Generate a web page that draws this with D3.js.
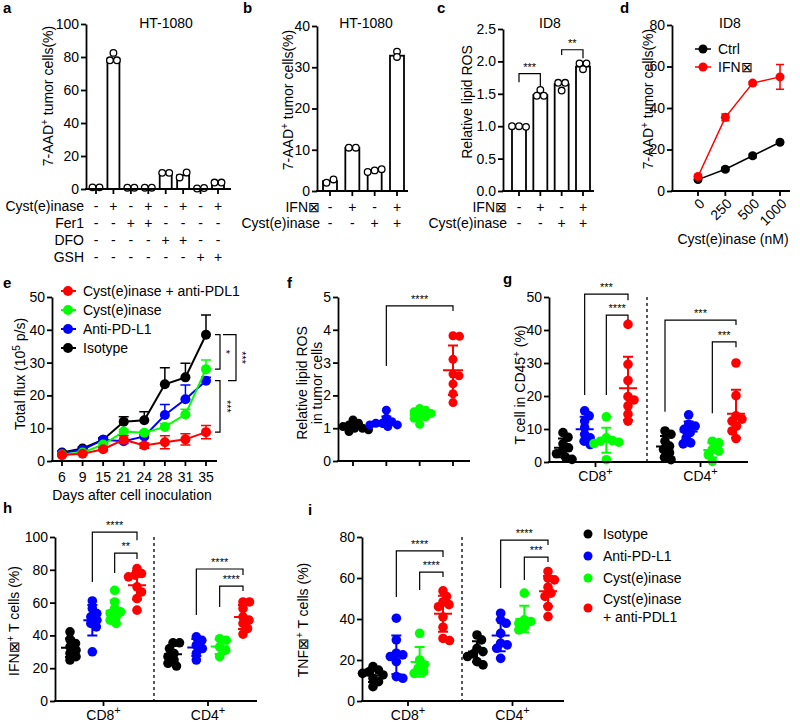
<!DOCTYPE html>
<html><head><meta charset="utf-8">
<script src="https://cdn.jsdelivr.net/npm/d3@7"></script>
<style>body{margin:0;background:#fff}</style>
</head><body><svg id="c" width="800" height="722"></svg>
<script>
// ---------------- DATA ----------------
// Panel a
const aRowLabels = ["Cyst(e)inase","Fer1","DFO","GSH"];
const aSigns = [["-","+","-","+","-","+","-","+"],["-","-","+","+","-","-","-","-"],["-","-","-","-","+","+","-","-"],["-","-","-","-","-","-","+","+"]];
const aMeans = [1, 79, 0.8, 0.8, 9.6, 8.3, 0.5, 3.6];
const aPoints = [[1,1],[82.5,78,78],[0.8,0.8],[0.8,0.8],[9.8,9.8],[7,10],[0.3,0.6],[3.9,3.9]];
const aTicks = [0,20,40,60,80,100];
// Panel b
const bRowLabels = ["IFN\u22A0","Cyst(e)inase"];
const bSigns = [["-","+","-","+"],["-","-","+","+"]];
const bMeans = [2.4, 10.5, 5.0, 32.8];
const bPoints = [[2.0,2.8],[10.5,10.5],[4.6,5.0,5.3],[33.8,32.5]];
const bTicks = [0,10,20,30,40];
// Panel c
const cRowLabels = ["IFN\u22A0","Cyst(e)inase"];
const cSigns = [["-","+","-","+"],["-","-","+","+"]];
const cMeans = [1.0, 1.48, 1.65, 1.92];
const cPoints = [[1.0,1.0,0.99],[1.56,1.47,1.47],[1.67,1.67,1.55],[1.97,1.97,1.88]];
const cTicks = [0,0.5,1.0,1.5,2.0,2.5];
const cBrackets = [{from:0,to:1,top:1.81,l:1.68,r:1.62,label:"***"},{from:2,to:3,top:2.18,l:2.1,r:2.05,label:"**"}];
// Panel d
const dDose = ["0","250","500","1000"];
const dCtrl = [5.5,10.5,17,23.5];
const dCtrlErr = [0.6,1,1,0.8];
const dIfn = [7,35.5,52,55];
const dIfnErr = [0.8,1.6,0.8,6];
const dTicks = [0,20,40,60,80];
// Panel e
const eDays = ["6","9","15","21","24","28","31","35"];
const eNames = ["Cyst(e)inase + anti-PDL1","Cyst(e)inase","Anti-PD-L1","Isotype"];
const eCombo = [1.8,2.2,3.6,6.5,4.7,5.7,6.6,8.8];
const eComboErr = [0.3,0.3,0.5,1.2,0.8,2,1.7,2];
const eCyst = [2.0,2.6,5.0,9.0,8.6,10.4,14.2,28];
const eCystErr = [0.3,0.3,0.5,0.6,0.5,1,1.6,2.8];
const eAnti = [2.4,3.4,6.5,6.0,7.5,14,18.8,24.5];
const eAntiErr = [0.3,0.3,0.5,0.5,0.6,3.2,4.4,1];
const eIso = [2.6,3.8,6.5,12,12.4,23.4,25.5,38.5];
const eIsoErr = [0.3,0.4,0.5,1.5,2.6,5,4.3,6];
const eTicks = [0,10,20,30,40,50];
// Panel f
const fBlack = [0.9,0.95,1.0,1.0,1.05,1.1,1.15,1.25];
const fBlue = [1.05,1.1,1.1,1.15,1.15,1.2,1.3,1.55];
const fGreen = [1.12,1.3,1.35,1.4,1.45,1.5,1.55,1.6];
const fRed = [3.8,3.82,3.1,2.65,2.6,2.35,2.05,1.78];
const fTicks = [0,1,2,3,4,5];
// Panel g (T cell in CD45+)
const gCD8 = [[8.9,7.5,5.5,4.3,3.3,2.5,1.5,0.8],[15.5,14,12.4,10.4,8.4,7.3,6.3,5.3],[13.7,7.3,6.5,6.3,6.0,5.6,0.7],[41.7,29.6,24.7,19.8,18.8,17,14.5,12.4]];
const gCD4 = [[9.4,8.4,6.3,4.8,3.8,2.8,1.4,0.7],[14.3,11.4,10.9,9.9,8.9,7.3,5.8,5.5],[6.3,5.8,3.8,3.3,2.2,0.2],[30,20.1,14,13,12.4,10.9,9.4,7.1]];
const gTicks = [0,10,20,30,40,50];
// Panel h (IFN+ T cells)
const hCD8 = [[42.2,37.5,35.1,33,31,29,27,25],[61,56.4,53.3,51.3,49.3,47.3,45.2,30],[67.5,60.4,56.4,54.4,53.3,51.3,49.3,47.3],[80.7,77.7,76.7,75.7,69.6,66.5,62.5,55.4]];
const hCD4 = [[35.5,35.5,32,29,27,25,23,21.3],[39.1,37,34,32,29,25],[38,37,33,31,27],[60.4,60.4,56.4,51.3,49.3,47.3,44.2,40.8]];
const hTicks = [0,20,40,60,80,100];
// Panel i (TNF+ T cells)
const iCD8 = [[16.8,15.1,14.3,13.5,12.7,11.1,9.4,7],[40.4,29.8,23.3,22.5,21.7,19.2,11.9,11.1],[33,20,17.6,16,14.3,13.5],[53.7,51,48.3,47,46,41,36,30.5,29.5]];
const iCD4 = [[32.2,29.8,25.7,24.1,23,21.7,19.2,17.6],[42.8,39.6,37.9,33,28.2,27.4,25.7,20.8],[52.6,39.6,38.8,37.9,36.3,34.7],[63.2,59.9,59.1,55.5,52.6,51,46.1,41.2]];
const iTicks = [0,20,40,60,80];
const groupNames = ["Isotype","Anti-PD-L1","Cyst(e)inase","Cyst(e)inase\n+ anti-PDL1"];
const cellTypes = ["CD8","CD4"];

// ---------------- DRAWING ----------------
const FONT = '"Liberation Sans", Arial, Helvetica, sans-serif';
const COLORS = ["#000000","#0000ff","#00ff00","#ff0000"];
const svg = d3.select('#c').attr('font-family', FONT);
const SW = 1.8;

function txt(x, y, s, o = {}) {
  return svg.append('text').attr('x', x).attr('y', y).text(s)
    .attr('font-size', o.size || 14).attr('text-anchor', o.anchor || 'start')
    .attr('font-weight', o.weight || null).attr('fill', o.fill || '#000');
}
function panelLabel(s, x, y) { txt(x, y, s, {size: 15, weight: 'bold'}); }

function yLabel(cx, cy, lines) {
  const g = svg.append('g').attr('transform', `translate(${cx},${cy}) rotate(-90)`);
  lines.forEach((parts, li) => {
    const t = g.append('text').attr('text-anchor', 'middle').attr('font-size', 14)
      .attr('y', 5 + (li - (lines.length - 1) / 2) * 15);
    let pendingDown = false;
    parts.forEach(p => {
      if (typeof p === 'object') {
        t.append('tspan').attr('dy', -5).attr('font-size', 10).text(p.sup);
        pendingDown = true;
      } else {
        const ts = t.append('tspan').text(p);
        if (pendingDown) { ts.attr('dy', 5); pendingDown = false; }
      }
    });
  });
}

function yAxis(y, x0, ticks, fmt) {
  const ax = svg.append('g').attr('transform', `translate(${x0},0)`)
    .call(d3.axisLeft(y).tickValues(ticks).tickFormat(fmt || d3.format('d')).tickSize(5).tickPadding(2).tickSizeOuter(0));
  ax.attr('font-family', FONT).attr('font-size', 14);
  ax.selectAll('path,line').attr('stroke', '#000').attr('stroke-width', SW);
  ax.selectAll('text').attr('fill', '#000');
  return ax;
}
function xAxisLine(x0, x1, y0, tickXs) {
  svg.append('line').attr('x1', x0 - SW / 2).attr('x2', x1).attr('y1', y0).attr('y2', y0)
    .attr('stroke', '#000').attr('stroke-width', SW);
  tickXs.forEach(x => svg.append('line').attr('x1', x).attr('x2', x).attr('y1', y0).attr('y2', y0 + 5)
    .attr('stroke', '#000').attr('stroke-width', SW));
}

// symmetric rows (few points, bar charts)
function swarm(vals, y, cx, r, gap) {
  const pts = vals.map((v, i) => ({v, i, py: y(v)}));
  const sorted = pts.slice().sort((a, b) => a.py - b.py);
  const rows = [];
  sorted.forEach(p => {
    const row = rows[rows.length - 1];
    if (row && p.py - row[0].py < r * 1.5) row.push(p); else rows.push([p]);
  });
  rows.forEach(row => {
    row.sort((a, b) => a.i - b.i);
    const n = row.length;
    row.forEach((p, k) => p.px = cx + (k - (n - 1) / 2) * gap);
  });
  return pts;
}
// compact beeswarm (dot plots)
function beeswarm(vals, y, cx, minD) {
  const pts = vals.map((v, i) => ({v, i, py: y(v)}));
  const placed = [];
  pts.slice().sort((a, b) => a.py - b.py).forEach(p => {
    for (let k = 0; k < 200; k++) {
      const off = (k % 2 === 1 ? 1 : -1) * Math.ceil(k / 2) * 0.5;
      const px = cx + off;
      if (placed.every(q => (q.px - px) ** 2 + (q.py - p.py) ** 2 >= minD * minD)) { p.px = px; break; }
    }
    if (p.px === undefined) p.px = cx;
    placed.push(p);
  });
  return pts;
}

function bracket(x1, x2, yTop, yl, yr, label, size = 11) {
  svg.append('path').attr('d', `M${x1},${yl}V${yTop}H${x2}V${yr}`)
    .attr('fill', 'none').attr('stroke', '#000').attr('stroke-width', 1.2);
  txt((x1 + x2) / 2, yTop - 3, label, {size, anchor: 'middle'});
}

function barPanel(cfg) {
  const y = d3.scaleLinear().domain([0, cfg.max]).range([cfg.y0, cfg.y1]);
  const x = d3.scalePoint().domain(d3.range(cfg.means.length)).range([cfg.xa, cfg.xb]);
  cfg.means.forEach((m, i) => {
    svg.append('rect').attr('x', x(i) - cfg.bw / 2).attr('y', y(m)).attr('width', cfg.bw)
      .attr('height', y(0) - y(m)).attr('fill', '#fff').attr('stroke', '#000').attr('stroke-width', SW);
  });
  cfg.points.forEach((pts, i) => {
    swarm(pts, y, x(i), 3.3, 7).forEach(p => {
      svg.append('circle').attr('cx', p.px).attr('cy', p.py).attr('r', 3.3)
        .attr('fill', '#fff').attr('stroke', '#000').attr('stroke-width', 1.3);
    });
  });
  yAxis(y, cfg.ax, cfg.ticks, cfg.fmt);
  xAxisLine(cfg.ax, cfg.xEnd, y(0), cfg.means.map((m, i) => x(i)));
  cfg.rows.forEach((lab, r) => {
    const by = cfg.rowY[r];
    txt(cfg.rowLabelX, by, lab, {anchor: 'end'});
    cfg.signs[r].forEach((s, i) => txt(x(i), by, s, {anchor: 'middle'}));
  });
  (cfg.brackets || []).forEach(b => bracket(x(b.from), x(b.to), y(b.top), y(b.l), y(b.r), b.label));
  txt(cfg.titleX, 28, cfg.title, {anchor: 'middle'});
  return {x, y};
}

// ---- a ----
panelLabel('a', 3, 13);
barPanel({max: 100, y0: 189, y1: 24, xa: 96, xb: 218, bw: 12, means: aMeans, points: aPoints, ax: 86,
  xEnd: 231, ticks: aTicks, rows: aRowLabels, signs: aSigns, rowY: [211, 228, 245, 262], rowLabelX: 84,
  title: 'HT-1080', titleX: 166});
yLabel(48, 96, [["7-AAD", {sup: "+"}, " tumor cells(%)"]]);

// ---- b ----
panelLabel('b', 243, 13);
barPanel({max: 40, y0: 191, y1: 26, xa: 330, xb: 397, bw: 14, means: bMeans, points: bPoints, ax: 317,
  xEnd: 408, ticks: bTicks, rows: bRowLabels, signs: bSigns, rowY: [212, 228], rowLabelX: 320,
  title: 'HT-1080', titleX: 366});
yLabel(288, 100, [["7-AAD", {sup: "+"}, " tumor cells(%)"]]);

// ---- c ----
panelLabel('c', 437, 13);
barPanel({max: 2.5, y0: 191, y1: 29, xa: 519, xb: 583, bw: 14, means: cMeans, points: cPoints, ax: 503,
  xEnd: 594, ticks: cTicks, fmt: d3.format('.1f'), rows: cRowLabels, signs: cSigns, rowY: [212, 228], rowLabelX: 507,
  brackets: cBrackets, title: 'ID8', titleX: 550});
yLabel(467, 102, [["Relative lipid ROS"]]);

// ---- d ----
(function () {
  panelLabel('d', 620, 13);
  const y = d3.scaleLinear().domain([0, 80]).range([191, 25]);
  const x = d3.scalePoint().domain(dDose).range([698, 780]);
  const series = [{v: dCtrl, e: dCtrlErr, c: COLORS[0]}, {v: dIfn, e: dIfnErr, c: COLORS[3]}];
  series.forEach(s => {
    svg.append('path').attr('d', d3.line().x((d, i) => x(dDose[i])).y(d => y(d))(s.v))
      .attr('fill', 'none').attr('stroke', s.c).attr('stroke-width', 1.5);
    s.v.forEach((v, i) => {
      const cx = x(dDose[i]);
      svg.append('path').attr('d', `M${cx},${y(v - s.e[i])}V${y(v + s.e[i])}M${cx - 4},${y(v - s.e[i])}H${cx + 4}M${cx - 4},${y(v + s.e[i])}H${cx + 4}`)
        .attr('stroke', s.c).attr('stroke-width', 1.5).attr('fill', 'none');
      svg.append('circle').attr('cx', cx).attr('cy', y(v)).attr('r', 4.5).attr('fill', s.c);
    });
  });
  yAxis(y, 672, dTicks);
  xAxisLine(672, 790, y(0), dDose.map(d => x(d)));
  dDose.forEach(d => {
    svg.append('text').attr('transform', `translate(${x(d) + 4},${201}) rotate(-45)`)
      .attr('text-anchor', 'end').attr('font-size', 14).attr('dy', '0.35em').text(d);
  });
  txt(733, 244, 'Cyst(e)inase (nM)', {anchor: 'middle'});
  txt(730, 28, 'ID8', {anchor: 'middle'});
  yLabel(648, 99, [["7-AAD", {sup: "+"}, " tumor cells(%)"]]);
  [["Ctrl", COLORS[0], 49], ["IFN\u22A0", COLORS[3], 67]].forEach(([n, c, ly]) => {
    svg.append('line').attr('x1', 695).attr('x2', 711).attr('y1', ly).attr('y2', ly).attr('stroke', c).attr('stroke-width', 1.5);
    svg.append('circle').attr('cx', 703).attr('cy', ly).attr('r', 4.5).attr('fill', c);
    txt(718, ly + 5, n);
  });
})();

// ---- e ----
(function () {
  panelLabel('e', 3, 288);
  const y = d3.scaleLinear().domain([0, 50]).range([461, 297]);
  const x = d3.scalePoint().domain(eDays).range([62, 206]);
  const series = [
    {v: eIso, e: eIsoErr, c: COLORS[0], both: false},
    {v: eAnti, e: eAntiErr, c: COLORS[1], both: false},
    {v: eCyst, e: eCystErr, c: COLORS[2], both: false},
    {v: eCombo, e: eComboErr, c: COLORS[3], both: true}];
  series.forEach(s => {
    s.v.forEach((v, i) => {
      const cx = x(eDays[i]);
      const lo = s.both ? y(v - s.e[i]) : y(v);
      let d = `M${cx},${lo}V${y(v + s.e[i])}M${cx - 5},${y(v + s.e[i])}H${cx + 5}`;
      if (s.both) d += `M${cx - 5},${lo}H${cx + 5}`;
      svg.append('path').attr('d', d).attr('stroke', s.c).attr('stroke-width', 1.5).attr('fill', 'none');
    });
    svg.append('path').attr('d', d3.line().x((d, i) => x(eDays[i])).y(d => y(d))(s.v))
      .attr('fill', 'none').attr('stroke', s.c).attr('stroke-width', 2);
    s.v.forEach((v, i) => svg.append('circle').attr('cx', x(eDays[i])).attr('cy', y(v)).attr('r', 5).attr('fill', s.c));
  });
  yAxis(y, 52, eTicks);
  xAxisLine(52, 217, y(0), eDays.map(d => x(d)));
  eDays.forEach(d => txt(x(d), 482, d, {anchor: 'middle'}));
  txt(132, 500, 'Days after cell inoculation', {anchor: 'middle'});
  yLabel(20, 374, [["Total flux (10", {sup: "5"}, " p/s)"]]);
  const legC = [COLORS[3], COLORS[2], COLORS[1], COLORS[0]];
  eNames.forEach((n, k) => {
    const ly = 291 + k * 19;
    svg.append('line').attr('x1', 61).attr('x2', 76).attr('y1', ly).attr('y2', ly).attr('stroke', legC[k]).attr('stroke-width', 2);
    svg.append('circle').attr('cx', 68).attr('cy', ly).attr('r', 5).attr('fill', legC[k]);
    txt(83, ly + 5, n);
  });
  const xb1 = 220, xb2 = 236;
  const vb = (xv, t, b, wt, wb) => svg.append('path').attr('d', `M${xv - wt},${y(t)}H${xv}V${y(b)}H${xv - wb}`)
    .attr('fill', 'none').attr('stroke', '#000').attr('stroke-width', 1.2);
  vb(xb1, eIso[7], eCyst[7], 5, 5);
  vb(xb2, eIso[7], eAnti[7], 13, 8);
  vb(xb1, eAnti[7], eCombo[7], 5, 5);
  const rl = (lx, ly, s) => svg.append('text').attr('transform', `translate(${lx},${ly}) rotate(90)`)
    .attr('text-anchor', 'middle').attr('font-size', 11).text(s);
  rl(222, y((eIso[7] + eCyst[7]) / 2), '*');
  rl(238, y((eIso[7] + eAnti[7]) / 2), '***');
  rl(223, y((eAnti[7] + eCombo[7]) / 2), '***');
})();

// ---- dot plots ----
function meanSD(xc, vals, y, c, hw) {
  const m = d3.mean(vals), sd = d3.deviation(vals);
  svg.append('path').attr('d', `M${xc - hw},${y(m)}H${xc + hw}M${xc},${y(m - sd)}V${y(m + sd)}M${xc - 5},${y(m - sd)}H${xc + 5}M${xc - 5},${y(m + sd)}H${xc + 5}`)
    .attr('stroke', c).attr('stroke-width', 2).attr('fill', 'none');
}
function dots(xc, vals, y, c, r) {
  beeswarm(vals, y, xc, r * 1.35).forEach(p => svg.append('circle').attr('cx', p.px).attr('cy', p.py).attr('r', r).attr('fill', c));
}

// ---- f ----
(function () {
  panelLabel('f', 287, 288);
  const y = d3.scaleLinear().domain([0, 5]).range([461, 297]);
  const x = d3.scalePoint().domain(d3.range(4)).range([353, 453]);
  [fBlack, fBlue, fGreen, fRed].forEach((vals, k) => {
    dots(x(k), vals, y, COLORS[k], 4.5);
    meanSD(x(k), vals, y, COLORS[k], 10);
  });
  yAxis(y, 338, fTicks);
  xAxisLine(338, 470, y(0), d3.range(4).map(k => x(k)));
  bracket(x(1), x(3), y(4.73), y(2.9), y(4.57), '****');
  yLabel(309, 383, [["Relative lipid ROS"], ["in tumor cells"]]);
})();

function dotPanel(cfg) {
  const y = d3.scaleLinear().domain([0, cfg.max]).range([cfg.y0, cfg.y1]);
  const xs = [d3.scalePoint().domain(d3.range(4)).range(cfg.r8), d3.scalePoint().domain(d3.range(4)).range(cfg.r4)];
  [cfg.cd8, cfg.cd4].forEach((grp, gi) => {
    grp.forEach((vals, k) => {
      dots(xs[gi](k), vals, y, COLORS[k], 4.8);
      meanSD(xs[gi](k), vals, y, COLORS[k], 9);
    });
  });
  svg.append('line').attr('x1', cfg.div).attr('x2', cfg.div).attr('y1', cfg.y1).attr('y2', cfg.y0)
    .attr('stroke', '#000').attr('stroke-width', 1.3).attr('stroke-dasharray', '3,3');
  yAxis(y, cfg.ax, cfg.ticks);
  const centers = xs.map(s => (s(0) + s(3)) / 2);
  xAxisLine(cfg.ax, cfg.xEnd, cfg.y0, centers);
  centers.forEach((cx, gi) => {
    const t = svg.append('text').attr('x', cx).attr('y', cfg.y0 + 19).attr('text-anchor', 'middle').attr('font-size', 14);
    t.append('tspan').text(cellTypes[gi]);
    t.append('tspan').attr('dy', -6).attr('font-size', 11).text('+');
  });
  cfg.brackets.forEach(b => bracket(xs[b.g](b.from), xs[b.g](b.to), y(b.top), y(b.l), y(b.r), b.label));
}

// ---- g ----
panelLabel('g', 503, 284);
dotPanel({max: 50, y0: 462, y1: 297, ax: 549, xEnd: 748, div: 647, r8: [563, 628], r4: [665, 736],
  cd8: gCD8, cd4: gCD4, ticks: gTicks,
  brackets: [{g: 0, from: 1, to: 3, top: 50.9, l: 20.3, r: 49, label: '***'},
             {g: 0, from: 2, to: 3, top: 44.5, l: 20.3, r: 43, label: '****'},
             {g: 1, from: 0, to: 3, top: 43, l: 15.2, r: 41.5, label: '***'},
             {g: 1, from: 2, to: 3, top: 36.4, l: 14.8, r: 34.8, label: '***'}]});
yLabel(520, 385, [["T cell in CD45", {sup: "+"}, " (%)"]]);

// ---- h ----
panelLabel('h', 3, 513);
dotPanel({max: 100, y0: 701, y1: 537, ax: 55, xEnd: 257, div: 154, r8: [70, 137], r4: [173, 243],
  cd8: hCD8, cd4: hCD4, ticks: hTicks,
  brackets: [{g: 0, from: 1, to: 3, top: 103, l: 72.6, r: 98, label: '****'},
             {g: 0, from: 2, to: 3, top: 90.2, l: 78, r: 86.6, label: '**'},
             {g: 1, from: 1, to: 3, top: 80.5, l: 52.4, r: 76.8, label: '****'},
             {g: 1, from: 2, to: 3, top: 70, l: 57.3, r: 67, label: '****'}]});
yLabel(14, 621, [["IFN\u22A0", {sup: "+"}, " T cells (%)"]]);

// ---- i ----
panelLabel('i', 308, 515);
dotPanel({max: 80, y0: 701, y1: 537, ax: 362, xEnd: 564, div: 462, r8: [373, 443], r4: [477, 548],
  cd8: iCD8, cd4: iCD4, ticks: iTicks,
  brackets: [{g: 0, from: 1, to: 3, top: 73.2, l: 50.7, r: 70.2, label: '****'},
             {g: 0, from: 2, to: 3, top: 62.9, l: 54.1, r: 60.5, label: '****'},
             {g: 1, from: 1, to: 3, top: 78.5, l: 55.1, r: 76.1, label: '****'},
             {g: 1, from: 2, to: 3, top: 70.2, l: 59, r: 67.8, label: '***'}]});
yLabel(303, 620, [["TNF\u22A0", {sup: "+"}, " T cells (%)"]]);

// ---- bottom-right legend ----
(function () {
  const ys = [534, 556, 578, 608];
  groupNames.forEach((n, k) => {
    svg.append('circle').attr('cx', 588).attr('cy', ys[k]).attr('r', 4.5).attr('fill', COLORS[k]);
    const lines = n.split('\n');
    lines.forEach((ln, li) => txt(603, ys[k] + 5 + (li - (lines.length - 1) / 2) * 18, ln));
  });
})();
</script></body></html>
